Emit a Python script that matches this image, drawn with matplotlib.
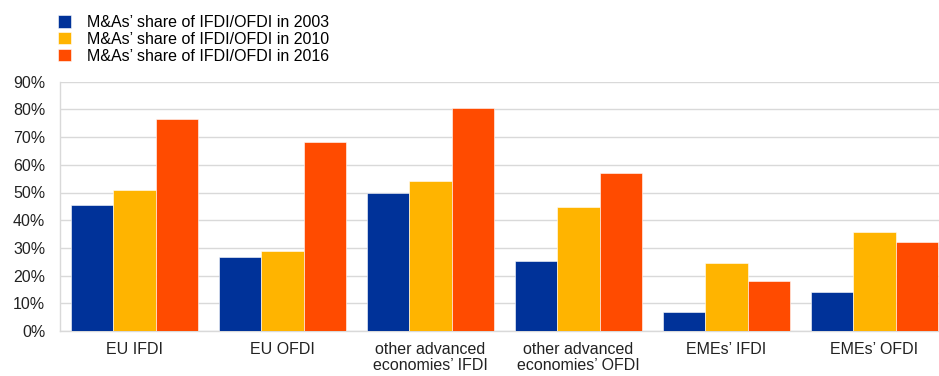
# M&As share of IFDI/OFDI grouped bar chart
import numpy as np
from matplotlib import pyplot as plt
from matplotlib.ticker import FuncFormatter

categories = ['EU IFDI', 'EU OFDI', 'other advanced\neconomies\u2019 IFDI',
              'other advanced\neconomies\u2019 OFDI', 'EMEs\u2019 IFDI', 'EMEs\u2019 OFDI']
share_2003 = [45.4, 26.7, 49.7, 25.2, 6.9, 14.1]
share_2010 = [50.8, 28.9, 54.2, 44.8, 24.4, 35.6]
share_2016 = [76.4, 68.1, 80.6, 57.0, 18.2, 32.1]
series_labels = ['M&As\u2019 share of IFDI/OFDI in 2003',
                 'M&As\u2019 share of IFDI/OFDI in 2010',
                 'M&As\u2019 share of IFDI/OFDI in 2016']
colors = ['#003299', '#FFB400', '#FF4B00']

plt.rcParams['font.family'] = ['Liberation Sans', 'DejaVu Sans']
fs = 11.5

fig = plt.figure(figsize=(9.39, 3.76), dpi=100)
W, H = 939, 376
ax = fig.add_axes([60.5 / W, 1 - 331 / H, 888 / W, (331 - 81.7) / H])

x = np.arange(len(categories))
bw = 0.86 / 3
bars = []
for i, (vals, col, lab) in enumerate(zip([share_2003, share_2010, share_2016], colors, series_labels)):
    b = ax.bar(x + (i - 1) * bw, vals, bw, color=col, label=lab, edgecolor='white', linewidth=0.4, zorder=3)
    bars.append(b)

ax.set_xlim(-0.5, len(categories) - 0.5)
ax.set_ylim(0, 90)
ax.set_yticks(range(0, 91, 10))
ax.yaxis.set_major_formatter(FuncFormatter(lambda v, p: '%d%%' % v))
ax.grid(axis='y', color='#d9d9d9', linewidth=1, zorder=0)
ax.set_xticks(x)
ax.set_xticklabels(categories, fontsize=fs, linespacing=1.1)
ax.tick_params(axis='both', length=0, labelsize=fs, colors='#222222')
ax.tick_params(axis='x', pad=8)
ax.tick_params(axis='y', pad=11)
for s in ['top', 'right']:
    ax.spines[s].set_visible(False)
for s in ['left', 'bottom']:
    ax.spines[s].set_color('#d9d9d9')
    ax.spines[s].set_linewidth(1)

fig.legend(handles=bars, labels=series_labels, loc='upper left', bbox_to_anchor=(58 / W, 1 - 15 / H),
           frameon=False, fontsize=fs, handlelength=0.8, handleheight=0.8, handletextpad=1.0,
           labelspacing=0.12, borderaxespad=0, borderpad=0)

fig.savefig('out.png', dpi=100)
